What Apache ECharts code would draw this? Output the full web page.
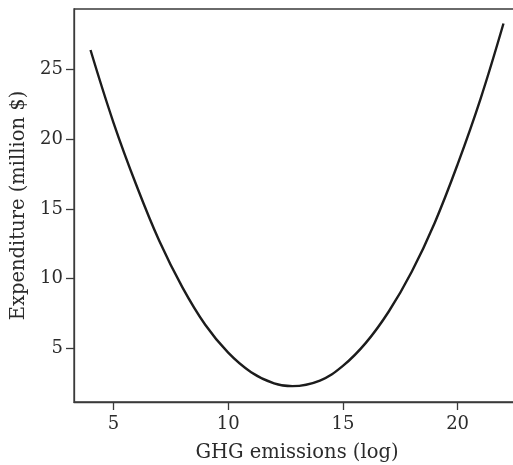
<!DOCTYPE html>
<html>
<head>
<meta charset="utf-8">
<script src="https://cdn.jsdelivr.net/npm/echarts@6/dist/echarts.min.js"></script>
<style>
html,body{margin:0;padding:0;background:#fff;overflow:hidden;}
#chart{width:521px;height:465px;}
</style>
</head>
<body>
<div id="chart"></div>
<script>
// GHG emissions (log) values
var ghgEmissions = [4, 5, 6, 7, 8, 9, 10, 11, 12, 12.8, 14, 15, 16, 17, 18, 19, 20, 21, 22];
// Expenditure (million $)
var expenditure = [26.4, 21.2, 16.7, 12.7, 9.4, 6.7, 4.7, 3.3, 2.5, 2.3, 2.7, 3.75, 5.4, 7.65, 10.5, 14.0, 18.2, 22.9, 28.3];
var xTickValues = [5, 10, 15, 20];
var yTickValues = [5, 10, 15, 20, 25];

var points = ghgEmissions.map(function (x, i) { return [x, expenditure[i]]; });

var fontFamily = '"DejaVu Serif", "Liberation Serif", serif';
var textColor = '#2b2b2b';
var axisColor = '#3a3a3a';

var chart = echarts.init(document.getElementById('chart'));
chart.setOption({
  backgroundColor: '#ffffff',
  animation: false,
  grid: {
    left: 74, top: 9, right: 1, bottom: 63,
    outerBoundsMode: 'none',
    containLabel: false,
    show: true, borderColor: axisColor, borderWidth: 1.3, backgroundColor: 'transparent'
  },
  xAxis: {
    type: 'value',
    min: 3.28, max: 22.72,
    name: 'GHG emissions (log)',
    nameLocation: 'middle',
    nameGap: 41,
    nameTextStyle: { fontFamily: fontFamily, fontSize: 19.5, color: textColor },
    axisLine: { show: true, lineStyle: { color: axisColor, width: 1.3 } },
    axisTick: { show: true, length: 8, inside: false, customValues: xTickValues, lineStyle: { color: axisColor, width: 1.3 } },
    axisLabel: { customValues: xTickValues, margin: 13, fontFamily: fontFamily, fontSize: 18, color: textColor },
    splitLine: { show: false }
  },
  yAxis: {
    type: 'value',
    min: 1.16, max: 29.34,
    name: 'Expenditure (million $)',
    nameLocation: 'middle',
    nameGap: 37,
    nameTextStyle: { fontFamily: fontFamily, fontSize: 19.5, color: textColor },
    axisLine: { show: true, lineStyle: { color: axisColor, width: 1.3 } },
    axisTick: { show: true, length: 8, inside: false, customValues: yTickValues, lineStyle: { color: axisColor, width: 1.3 } },
    axisLabel: { customValues: yTickValues, margin: 11, fontFamily: fontFamily, fontSize: 18, color: textColor },
    splitLine: { show: false }
  },
  series: [{
    type: 'line',
    data: points,
    smooth: 0.4,
    showSymbol: false,
    symbol: 'none',
    lineStyle: { color: '#1c1c1c', width: 2.4 }
  }]
});
</script>
</body>
</html>
